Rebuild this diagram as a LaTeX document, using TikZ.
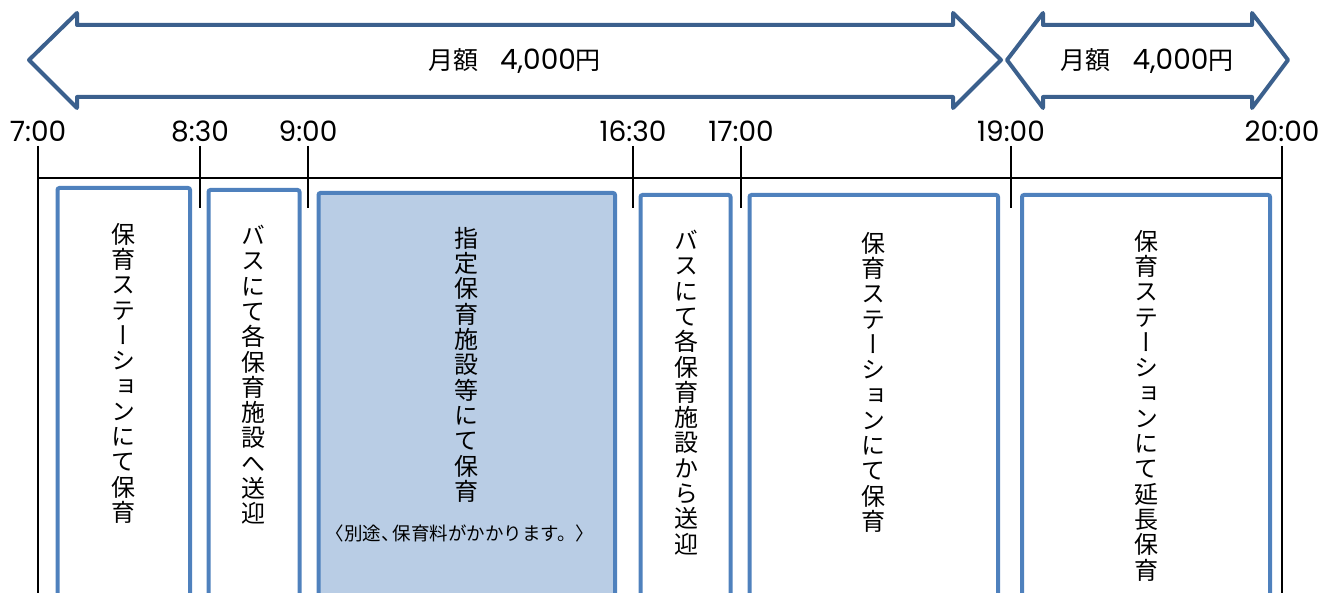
\documentclass[tikz,border=0pt]{standalone}
\usepackage{fontspec}
\setmainfont{Poppins}
\newfontfamily\jp{Noto Sans CJK JP}
\newfontfamily\jpv[RawFeature=+vert]{Noto Sans CJK JP}
\definecolor{arrowblue}{RGB}{59,96,141}
\definecolor{boxblue}{RGB}{79,129,189}
\definecolor{boxfill}{RGB}{185,205,229}
\begin{document}
\begin{tikzpicture}[x=1pt,y=-1pt,
  arrowline/.style={draw=arrowblue, line width=4pt, line join=round},
  slot/.style={draw=boxblue, line width=4pt, rounded corners=2pt, inner sep=0pt, outer sep=0pt, anchor=north west},
  vtext/.style={anchor=north, inner sep=0pt, align=center, font=\jpv\fontsize{24}{25.3}\selectfont},
  tlabel/.style={anchor=base, inner sep=0pt, font=\fontsize{28}{30}\selectfont},
  alabel/.style={anchor=base, inner sep=0pt, font=\fontsize{28}{30}\selectfont},
  axis/.style={draw=black, line width=1.8pt}
]
\useasboundingbox (0,0) rectangle (1337,593);
\clip (0,0) rectangle (1337,593);

% double arrows
\draw[arrowline] (29,60) -- (77,13) -- (77,25) -- (953,25) -- (953,13) -- (1001,60)
  -- (953,108) -- (953,97) -- (77,97) -- (77,108) -- cycle;
\draw[arrowline] (1007,60) -- (1043,13) -- (1043,25) -- (1252,25) -- (1252,13) -- (1288,60)
  -- (1252,108) -- (1252,97) -- (1043,97) -- (1043,108) -- cycle;
\node[alabel] (m1) at (514.5,70) {{\jp\fontsize{25}{26}\selectfont 月額}\hspace{22pt}4,000{\jp\fontsize{25}{26}\selectfont 円}};
\node[alabel] (m2) at (1147,70) {{\jp\fontsize{25}{26}\selectfont 月額}\hspace{22pt}4,000{\jp\fontsize{25}{26}\selectfont 円}};

% time labels
\node[tlabel] (l700) at (38,142) {7:00};
\node[tlabel] (l830) at (200,142) {8:30};
\node[tlabel] (l900) at (308,142) {9:00};
\node[tlabel] (l1630) at (633,142) {16:30};
\node[tlabel] (l1700) at (741,142) {17:00};
\node[tlabel] (l1900) at (1011,142) {19:00};
\node[tlabel] (l2000) at (1282,142) {20:00};

% ticks
\coordinate (k700) at (38,146);
\coordinate (k830) at (200,146);
\coordinate (k900) at (308,146);
\coordinate (k1630) at (633,146);
\coordinate (k1700) at (741,146);
\coordinate (k1900) at (1011,146);
\coordinate (k2000) at (1282,146);
\draw[axis] (k700) -- ++(0,460);
\draw[axis] (k2000) -- ++(0,460);
\foreach \k in {k830,k900,k1630,k1700,k1900} \draw[axis] (\k) -- ++(0,62);
\draw[axis] (38,178) -- (1282,178);

% boxes
\node[slot, minimum width=132.5pt, minimum height=430pt] (b1) at (57.5,188) {};
\node[slot, minimum width=91pt, minimum height=430pt] (b2) at (208.5,190) {};
\node[slot, fill=boxfill, minimum width=296.5pt, minimum height=430pt] (b3) at (318.5,193) {};
\node[slot, minimum width=90pt, minimum height=430pt] (b4) at (640.5,195) {};
\node[slot, minimum width=248.5pt, minimum height=430pt] (b5) at (749.5,195) {};
\node[slot, minimum width=248pt, minimum height=430pt] (b6) at (1022,195) {};

% texts
\node[vtext] (t1) at (123,223) {保\\育\\ス\\テ\\ー\\シ\\ョ\\ン\\に\\て\\保\\育};
\node[vtext] (t2) at (253.5,225) {バ\\ス\\に\\て\\各\\保\\育\\施\\設\\へ\\送\\迎};
\node[vtext] (t3) at (466,227) {指\\定\\保\\育\\施\\設\\等\\に\\て\\保\\育};
\node[anchor=base, inner sep=0pt, font=\jp\fontsize{18.5}{20}\selectfont] (c3) at (460,540) {〈別途、\kern-7pt 保育料がかかります。〉};
\node[vtext] (t4) at (686,230) {バ\\ス\\に\\て\\各\\保\\育\\施\\設\\か\\ら\\送\\迎};
\node[vtext] (t5) at (873,232) {保\\育\\ス\\テ\\ー\\シ\\ョ\\ン\\に\\て\\保\\育};
\node[vtext] (t6) at (1146,230) {保\\育\\ス\\テ\\ー\\シ\\ョ\\ン\\に\\て\\延\\長\\保\\育};
\end{tikzpicture}
\end{document}
